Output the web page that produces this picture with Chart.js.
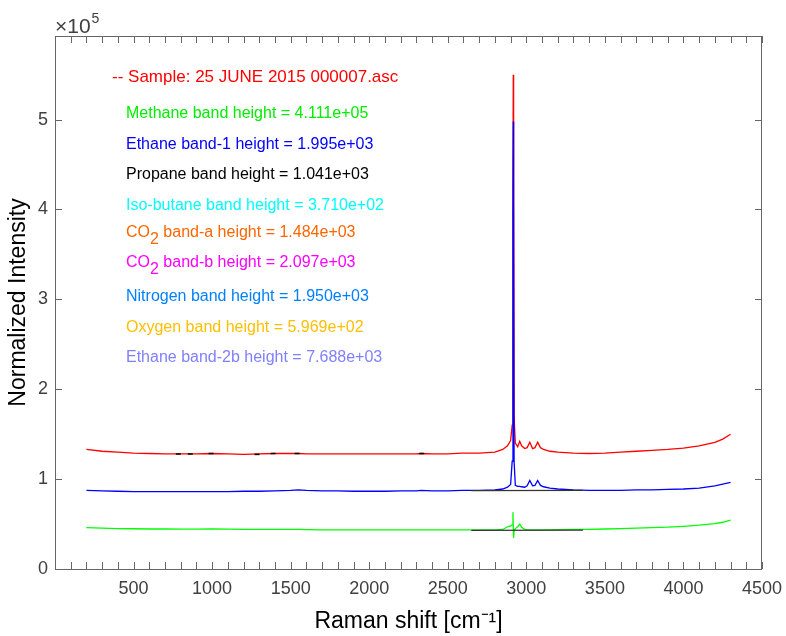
<!DOCTYPE html>
<html>
<head>
<meta charset="utf-8">
<style>
  body { margin: 0; background: #fff; }
</style>
</head>
<body>
<canvas id="ramanChart" width="786" height="636"></canvas>

<script src="https://cdn.jsdelivr.net/npm/chart.js"></script>
<script>
// Raman shift positions (cm-1) shared by the three spectra
const shift = [200, 300, 400, 500, 600, 700, 800, 900, 1000, 1100, 1200, 1300, 1400, 1500,
    1550, 1600, 1700, 1800, 1900, 2000, 2100, 2200, 2300, 2330, 2400, 2500, 2590,
    2700, 2800, 2850, 2880, 2900, 2910, 2915, 2917, 2919, 2922,
    2930, 2945, 2958, 2970, 2990, 3005, 3022, 3040, 3055, 3072,
    3090, 3110, 3150, 3200, 3300, 3400, 3500, 3600, 3700, 3800,
    3900, 4000, 4100, 4200, 4250, 4300];

// intensities in units of 1e5
const sampleRed = [1.33, 1.31, 1.30, 1.29, 1.285, 1.28, 1.28, 1.28, 1.285, 1.28, 1.275, 1.28, 1.285, 1.285,
    1.285, 1.28, 1.28, 1.28, 1.28, 1.28, 1.28, 1.28, 1.28, 1.285, 1.28, 1.28, 1.29,
    1.29, 1.30, 1.33, 1.37, 1.43, 1.6, 4.4, 5.50, 4.4, 1.7,
    1.40, 1.36, 1.42, 1.37, 1.34, 1.35, 1.41, 1.34, 1.35, 1.41,
    1.35, 1.33, 1.31, 1.30, 1.29, 1.285, 1.29, 1.30, 1.31, 1.32,
    1.33, 1.345, 1.37, 1.41, 1.445, 1.50];

const sampleBlue = [0.875, 0.87, 0.865, 0.86, 0.86, 0.86, 0.86, 0.86, 0.86, 0.86, 0.865, 0.865, 0.87, 0.875,
    0.88, 0.875, 0.87, 0.87, 0.865, 0.865, 0.865, 0.87, 0.87, 0.875, 0.87, 0.87, 0.875,
    0.875, 0.88, 0.89, 0.91, 0.94, 1.2, 4.0, 4.98, 4.0, 1.2,
    0.93, 0.92, 0.92, 0.915, 0.91, 0.925, 0.985, 0.925, 0.93, 0.985,
    0.93, 0.915, 0.90, 0.89, 0.88, 0.875, 0.875, 0.875, 0.88, 0.88,
    0.885, 0.89, 0.90, 0.925, 0.945, 0.965];

const sampleGreen = [0.46, 0.455, 0.45, 0.448, 0.445, 0.445, 0.443, 0.443, 0.445, 0.443, 0.44, 0.44, 0.44, 0.44,
    0.44, 0.438, 0.435, 0.435, 0.435, 0.435, 0.435, 0.435, 0.435, 0.435, 0.435, 0.435, 0.435,
    0.435, 0.435, 0.44, 0.47, 0.48, 0.49, 0.63, 0.45, 0.345, 0.42,
    0.45, 0.47, 0.50, 0.465, 0.44, 0.435, 0.435, 0.435, 0.435, 0.435,
    0.435, 0.435, 0.435, 0.437, 0.44, 0.44, 0.445, 0.45, 0.455, 0.46,
    0.465, 0.475, 0.488, 0.505, 0.52, 0.545];

// fitted baselines under the C-H region
const fitX = [2650, 3360];
const blueFit = [0.872, 0.875];
const greenFit = [0.43, 0.432];

// small black peak marks on the red spectrum
const markX = [785, 861, 993, 1286, 1388, 1541, 2334];
const markY = [1.28, 1.28, 1.285, 1.275, 1.285, 1.285, 1.285];

const xTicks = [];
for (let v = 0; v <= 4500; v += 100) xTicks.push(v);
const yTicks = [0, 1, 2, 3, 4, 5];

const annTitle = '-- Sample: 25 JUNE 2015 000007.asc';
const annLines = [
    { parts: ['Methane band height = 4.111e+05'], color: '#00ee00' },
    { parts: ['Ethane band-1 height = 1.995e+03'], color: '#0000ff' },
    { parts: ['Propane band height = 1.041e+03'], color: '#000000' },
    { parts: ['Iso-butane band height = 3.710e+02'], color: '#00ffff' },
    { parts: ['CO', '2', ' band-a height = 1.484e+03'], color: '#ff6600' },
    { parts: ['CO', '2', ' band-b height = 2.097e+03'], color: '#ff00ff' },
    { parts: ['Nitrogen band height = 1.950e+03'], color: '#0080ff' },
    { parts: ['Oxygen band height = 5.969e+02'], color: '#ffbf00' },
    { parts: ['Ethane band-2b height = 7.688e+03'], color: '#8080ff' }
];
const annBase = [118, 149, 179, 210, 237, 267, 301, 332, 362];

const E5 = 1e5;
const pts = (xs, ys) => xs.map((x, i) => ({ x: x, y: ys[i] * E5 }));

const axisColor = '#404040';
const FONT = '"Liberation Sans", Arial, sans-serif';

const boxPlugin = {
    id: 'box',
    afterDraw(chart) {
        const c = chart.ctx;
        const a = chart.chartArea;
        const xs = chart.scales.x, ys = chart.scales.y;
        c.save();
        c.strokeStyle = '#666';
        c.lineWidth = 1;
        c.strokeRect(Math.round(a.left) + 0.5, Math.round(a.top) + 0.5,
            Math.round(a.right - a.left) - 1, Math.round(a.bottom - a.top));
        c.beginPath();
        xTicks.forEach(v => {
            const px = Math.round(xs.getPixelForValue(v)) + 0.5;
            c.moveTo(px, a.bottom); c.lineTo(px, a.bottom - 7);
            c.moveTo(px, a.top); c.lineTo(px, a.top + 7);
        });
        yTicks.forEach(v => {
            const py = Math.round(ys.getPixelForValue(v * E5)) + 0.5;
            c.moveTo(a.left, py); c.lineTo(a.left + 7, py);
            c.moveTo(a.right, py); c.lineTo(a.right - 7, py);
        });
        c.stroke();

        // exponent label
        c.fillStyle = axisColor;
        c.textBaseline = 'alphabetic';
        c.font = '21px ' + FONT;
        c.fillText('\u00d710', 55, 33);
        const w = c.measureText('\u00d710').width;
        c.font = '14px ' + FONT;
        c.fillText('5', 55 + w + 1, 23);

        // annotation text
        c.font = '17px ' + FONT;
        c.fillStyle = '#ff0000';
        c.fillText(annTitle, 112, 82);
        c.font = '16px ' + FONT;
        annLines.forEach((ln, i) => {
            c.fillStyle = ln.color;
            let x = 126;
            ln.parts.forEach((p, j) => {
                const sub = ln.parts.length > 1 && j === 1;
                c.fillText(p, x, annBase[i] + (sub ? 7 : 0));
                x += c.measureText(p).width;
            });
        });
        c.restore();
    }
};

const ctx = document.getElementById('ramanChart').getContext('2d');
const chart = new Chart(ctx, {
    type: 'line',
    data: {
        datasets: [
            { data: pts(markX, markY), borderColor: '#000', backgroundColor: '#000', showLine: false,
              pointStyle: 'line', pointRadius: 2.5, borderWidth: 1.5 },
            { data: pts(fitX, blueFit), borderColor: '#333', borderWidth: 1.2 },
            { data: pts(fitX, greenFit), borderColor: '#333', borderWidth: 1.2 },
            { data: pts(shift, sampleGreen), borderColor: '#00ff00', borderWidth: 1.3 },
            { data: pts(shift, sampleBlue), borderColor: '#0000ff', borderWidth: 1.3 },
            { data: pts(shift, sampleRed), borderColor: '#ff0000', borderWidth: 1.3 }
        ]
    },
    options: {
        responsive: false,
        animation: false,
        layout: { padding: { top: 36, right: 24, left: 0, bottom: 0 } },
        elements: { point: { radius: 0 }, line: { tension: 0 } },
        plugins: { legend: { display: false }, tooltip: { enabled: false } },
        scales: {
            x: {
                type: 'linear', min: 0, max: 4500,
                afterFit: s => { s.height = 67; s.paddingLeft = 0; s.paddingRight = 0; },
                afterBuildTicks: s => { s.ticks = xTicks.map(v => ({ value: v })); },
                grid: { display: false, drawTicks: false },
                border: { display: false },
                ticks: {
                    autoSkip: false, maxRotation: 0, padding: 9, color: axisColor,
                    font: { family: FONT, size: 18 },
                    callback: v => (v > 0 && v % 500 === 0) ? String(v) : ''
                },
                title: {
                    display: true, text: 'Raman shift [cm\u207b\u00b9]', color: '#000',
                    font: { family: FONT, size: 23 },
                    padding: { top: 0, bottom: 1 }
                }
            },
            y: {
                min: 0, max: 593000,
                afterFit: s => { s.width = 55; s.paddingTop = 0; s.paddingBottom = 0; },
                afterBuildTicks: s => { s.ticks = yTicks.map(v => ({ value: v * E5 })); },
                grid: { display: false, drawTicks: false },
                border: { display: false },
                ticks: {
                    padding: 7, color: axisColor,
                    font: { family: FONT, size: 18 },
                    callback: v => String(v / E5)
                },
                title: {
                    display: true, text: 'Normalized Intensity', color: '#000',
                    font: { family: FONT, size: 23 },
                    padding: { top: 5, bottom: 0 }
                }
            }
        }
    },
    plugins: [boxPlugin]
});
</script>
</body>
</html>
